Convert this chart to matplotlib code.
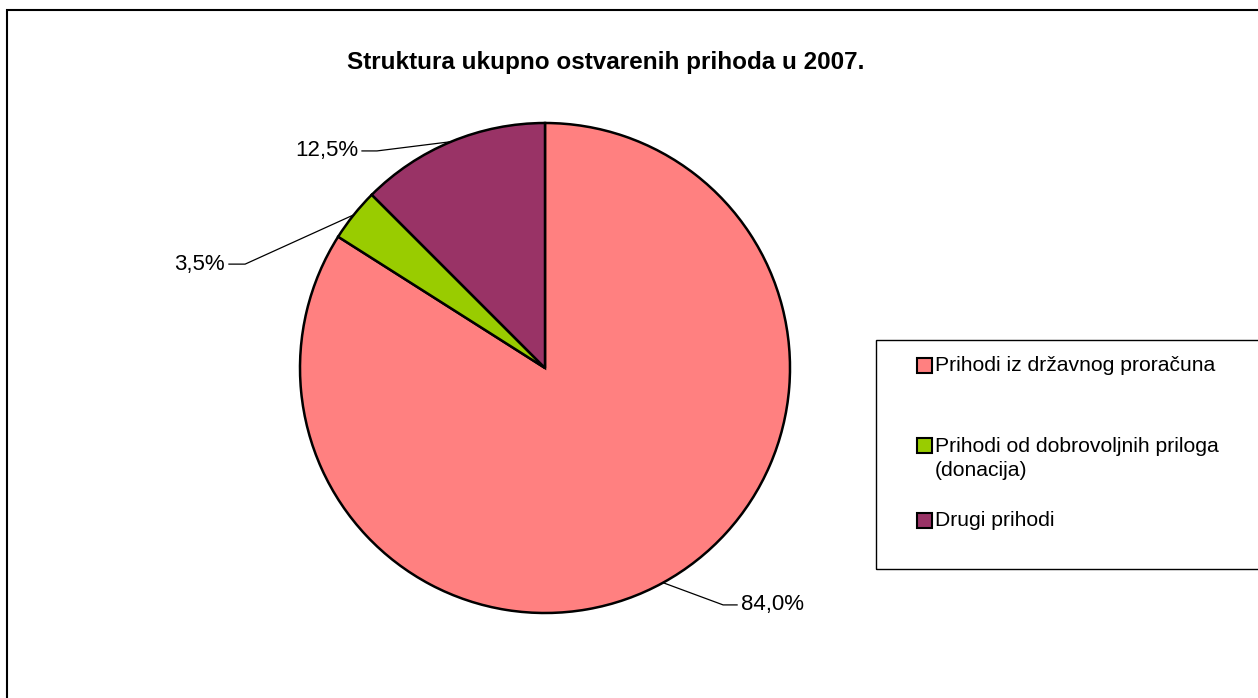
import matplotlib
matplotlib.use("Agg")
import matplotlib.pyplot as plt
from matplotlib.patches import Rectangle
import numpy as np

plt.rcParams['font.family'] = ['Liberation Sans', 'DejaVu Sans']

title = "Struktura ukupno ostvarenih prihoda u 2007."
categories = ["Prihodi iz državnog proračuna",
              "Prihodi od dobrovoljnih priloga\n(donacija)",
              "Drugi prihodi"]
values = [84.0, 3.5, 12.5]
value_labels = ["84,0%", "3,5%", "12,5%"]
colors = ["#FF8080", "#99CC00", "#993366"]

W, H = 1258, 698
fig = plt.figure(figsize=(W / 100, H / 100), dpi=100)

def fx(x):
    return x / W

def fy(y):
    return 1 - y / H

# outer chart border
fig.patches.append(Rectangle((fx(7), fy(1000)), fx(1400), fy(10) - fy(1000),
                             transform=fig.transFigure, fill=False,
                             edgecolor="#000000", linewidth=1.5))

# pie axes: center (545, 368), radius 245 px
cx, cy, r = 545, 368, 245
ax = fig.add_axes([fx(cx - r), fy(cy + r), 2 * r / W, 2 * r / H])

wedges, _ = ax.pie(values, colors=colors, startangle=90, counterclock=False,
                   radius=1.0, center=(0, 0),
                   wedgeprops=dict(edgecolor="black", linewidth=1.8))
ax.set_xlim(-1, 1)
ax.set_ylim(-1, 1)
ax.set_aspect("equal")
ax.axis("off")

# label positions (elbow point, text anchor) in pie data units
elbows = [(0.727, -0.967), (-1.224, 0.424), (-0.686, 0.886)]
text_x = [0.800, -1.306, -0.763]
for w, lab, (ex, ey), tx in zip(wedges, value_labels, elbows, text_x):
    ang = np.deg2rad((w.theta1 + w.theta2) / 2)
    px, py = np.cos(ang), np.sin(ang)
    if tx > ex:
        hx = tx - 0.016
        ha = "left"
    else:
        hx = tx + 0.016
        ha = "right"
    ax.plot([px, ex, hx], [py, ey, ey], color="black", linewidth=0.9,
            clip_on=False)
    ax.text(tx, ey, lab, ha=ha, va="center", fontsize=16, clip_on=False)

# title
fig.text(fx(606), fy(62), title, ha="center", va="center",
         fontsize=17.5, fontweight="bold")

# legend box
fig.patches.append(Rectangle((fx(876), fy(569)), fx(1400) - fx(876),
                             fy(340) - fy(569), transform=fig.transFigure,
                             fill=False, edgecolor="#000000", linewidth=1.0))
legend_rows = [366, 446, 521]
for cat, col, y in zip(categories, colors, legend_rows):
    fig.patches.append(Rectangle((fx(917), fy(y + 7)), 15 / W, 15 / H,
                                 transform=fig.transFigure, facecolor=col,
                                 edgecolor="black", linewidth=1.5))
    lines = cat.split("\n")
    for i, line in enumerate(lines):
        fig.text(fx(935), fy(y + 25 * i), line, ha="left", va="center",
                 fontsize=15.2)

fig.savefig("out.png", dpi=100, facecolor="white")
